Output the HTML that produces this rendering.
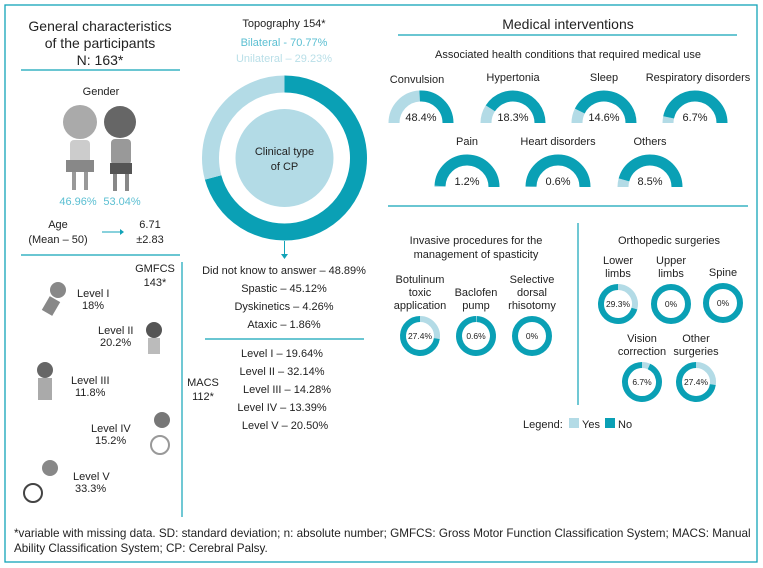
<!DOCTYPE html>
<html><head><meta charset="utf-8">
<style>
body{margin:0;background:#fff;}
svg{display:block;font-family:"Liberation Sans",sans-serif;}
text{fill:#222;}
</style></head><body>
<svg id="chart" width="763" height="568" viewBox="0 0 763 568">
<rect x="5" y="5" width="752" height="557" fill="none" stroke="#12a3b8" stroke-width="1.3"/>
<g>
<text x="100" y="31" font-size="14" text-anchor="middle">General characteristics</text>
<text x="100" y="48" font-size="14" text-anchor="middle">of the participants</text>
<text x="100" y="65" font-size="14" text-anchor="middle">N: 163*</text>
<line x1="21" y1="70" x2="180" y2="70" stroke="#12a3b8" stroke-width="1.2"/>
<text x="101" y="95" font-size="11" text-anchor="middle">Gender</text>
<g fill="#bbb">
<circle cx="80" cy="122" r="17" fill="#aaa"/><rect x="70" y="140" width="20" height="28" rx="4" fill="#ccc"/><rect x="66" y="160" width="28" height="12" fill="#888"/><rect x="72" y="172" width="4" height="18" fill="#999"/><rect x="84" y="172" width="4" height="18" fill="#999"/>
<circle cx="120" cy="122" r="16" fill="#666"/><rect x="111" y="139" width="20" height="26" rx="4" fill="#999"/><rect x="110" y="163" width="22" height="11" fill="#555"/><rect x="113" y="174" width="4" height="17" fill="#888"/><rect x="125" y="174" width="4" height="17" fill="#888"/>
</g>
<text x="78" y="205" font-size="11" text-anchor="middle" style="fill:#5bbfd2">46.96%</text>
<text x="122" y="205" font-size="11" text-anchor="middle" style="fill:#5bbfd2">53.04%</text>
<text x="58" y="228" font-size="11" text-anchor="middle">Age</text>
<text x="58" y="243" font-size="11" text-anchor="middle">(Mean – 50)</text>
<line x1="102" y1="232" x2="120" y2="232" stroke="#12a3b8"/><polygon points="120,229 124,232 120,235" fill="#12a3b8"/>
<text x="150" y="228" font-size="11" text-anchor="middle">6.71</text>
<text x="150" y="243" font-size="11" text-anchor="middle">±2.83</text>
<line x1="21" y1="255" x2="180" y2="255" stroke="#12a3b8" stroke-width="1.2"/>
<line x1="182" y1="262" x2="182" y2="517" stroke="#12a3b8" stroke-width="1.2"/>
<text x="155" y="272" font-size="11" text-anchor="middle">GMFCS</text>
<text x="155" y="286" font-size="11" text-anchor="middle">143*</text>
<g font-size="11">
<text x="77" y="297">Level I</text><text x="82" y="309">18%</text>
<text x="98" y="334">Level II</text><text x="100" y="346">20.2%</text>
<text x="71" y="384">Level III</text><text x="75" y="396">11.8%</text>
<text x="91" y="432">Level IV</text><text x="95" y="444">15.2%</text>
<text x="73" y="480">Level V</text><text x="75" y="492">33.3%</text>
</g>
<g fill="#888">
<circle cx="58" cy="290" r="8"/><rect x="45" y="298" width="12" height="16" transform="rotate(30 51 306)"/>
<circle cx="154" cy="330" r="8" fill="#555"/><rect x="148" y="338" width="12" height="16" fill="#bbb"/>
<circle cx="45" cy="370" r="8" fill="#666"/><rect x="38" y="378" width="14" height="22" fill="#aaa"/>
<circle cx="162" cy="420" r="8" fill="#777"/><circle cx="160" cy="445" r="9" fill="none" stroke="#999" stroke-width="2"/>
<circle cx="50" cy="468" r="8" fill="#888"/><circle cx="33" cy="493" r="9" fill="none" stroke="#444" stroke-width="2"/>
</g>
</g>
<g>
<text x="284" y="27" font-size="11" text-anchor="middle">Topography 154*</text>
<text x="284" y="46" font-size="11" text-anchor="middle" style="fill:#5bbfd2">Bilateral - 70.77%</text>
<text x="284" y="62" font-size="11" text-anchor="middle" style="fill:#b9dfe8">Unilateral – 29.23%</text>
<g id="bigdonut"></g>
<circle cx="284.5" cy="158" r="49" fill="#b3dbe6"/>
<text x="284.5" y="155" font-size="11" text-anchor="middle">Clinical type</text>
<text x="284.5" y="170" font-size="11" text-anchor="middle">of CP</text>
<line x1="284.5" y1="241" x2="284.5" y2="255" stroke="#12a3b8"/><polygon points="281,254 288,254 284.5,259" fill="#12a3b8"/>
<g font-size="11" text-anchor="middle">
<text x="284" y="274">Did not know to answer – 48.89%</text>
<text x="284" y="292">Spastic – 45.12%</text>
<text x="284" y="310">Dyskinetics – 4.26%</text>
<text x="284" y="328">Ataxic – 1.86%</text>
</g>
<line x1="205" y1="339" x2="364" y2="339" stroke="#12a3b8" stroke-width="1.2"/>
<text x="203" y="386" font-size="11" text-anchor="middle">MACS</text>
<text x="203" y="400" font-size="11" text-anchor="middle">112*</text>
<g font-size="11" text-anchor="middle">
<text x="282" y="357">Level I – 19.64%</text>
<text x="282" y="375">Level II – 32.14%</text>
<text x="287" y="393">Level III – 14.28%</text>
<text x="282" y="411">Level IV – 13.39%</text>
<text x="285" y="429">Level V – 20.50%</text>
</g>
</g>
<text x="568" y="29" font-size="14" text-anchor="middle">Medical interventions</text>
<line x1="398" y1="35" x2="737" y2="35" stroke="#12a3b8" stroke-width="1.2"/>
<text x="568" y="58" font-size="11" text-anchor="middle">Associated health conditions that required medical use</text>
<g id="gauges"></g>
<line x1="388" y1="206" x2="748" y2="206" stroke="#12a3b8" stroke-width="1.2"/>
<line x1="578" y1="223" x2="578" y2="405" stroke="#12a3b8" stroke-width="1.2"/>
<text x="476" y="244" font-size="11" text-anchor="middle">Invasive procedures for the</text>
<text x="476" y="258" font-size="11" text-anchor="middle">management of spasticity</text>
<text x="669" y="244" font-size="11" text-anchor="middle">Orthopedic surgeries</text>
<g id="rings"></g>
<g>
<text x="523" y="428" font-size="11">Legend:</text>
<rect x="569" y="418" width="10" height="10" fill="#b3dbe6"/>
<text x="582" y="428" font-size="11">Yes</text>
<rect x="605" y="418" width="10" height="10" fill="#0aa0b5"/>
<text x="618" y="428" font-size="11">No</text>
</g>
<text x="14" y="537" font-size="11.7">*variable with missing data. SD: standard deviation; n: absolute number; GMFCS: Gross Motor Function Classification System; MACS: Manual</text>
<text x="14" y="552" font-size="11.7">Ability Classification System; CP: Cerebral Palsy.</text>
</svg>
<script>
const DARK="#0aa0b5", LIGHT="#b3dbe6", NS="http://www.w3.org/2000/svg";
const topoCategories=["Bilateral","Unilateral"];
const topoValues=[70.77,29.23];
const gaugeLabels=["Convulsion","Hypertonia","Sleep","Respiratory disorders","Pain","Heart disorders","Others"];
const gaugeValues=[48.4,18.3,14.6,6.7,1.2,0.6,8.5];
const ringLabels=[["Botulinum","toxic","application"],["Baclofen","pump"],["Selective","dorsal","rhisotomy"],["Lower","limbs"],["Upper","limbs"],["Spine"],["Vision","correction"],["Other","surgeries"]];
const ringValues=[27.4,0.6,0,29.3,0,0,6.7,27.4];
const ringText=["27.4%","0.6%","0%","29.3%","0%","0%","6.7%","27.4%"];

function el(t,a,p){const e=document.createElementNS(NS,t);for(const k in a)e.setAttribute(k,a[k]);p.appendChild(e);return e;}
function pt(cx,cy,r,deg){const a=(deg-90)*Math.PI/180;return [cx+r*Math.cos(a),cy+r*Math.sin(a)];}
function arc(cx,cy,r,a0,a1){const s=pt(cx,cy,r,a0),e=pt(cx,cy,r,a1);const large=(a1-a0)>180?1:0;return `M${s[0]},${s[1]} A${r},${r} 0 ${large} 1 ${e[0]},${e[1]}`;}
function seg(g,cx,cy,r,w,a0,a1,col,name){if(a1-a0<=0.01)return;
  let p;
  if(a1-a0>=359.99){p=el('circle',{cx,cy,r,fill:'none',stroke:col,'stroke-width':w},g);}
  else p=el('path',{d:arc(cx,cy,r,a0,a1),fill:'none',stroke:col,'stroke-width':w},g);
  
  }

const bd=document.getElementById('bigdonut');
let acc=0;
topoValues.forEach((v,i)=>{const a0=acc/100*360,a1=(acc+v)/100*360;acc+=v;
  seg(bd,284.5,158,74,17,a0,a1,i===0?DARK:LIGHT,'donut-slice-'+topoCategories[i].toLowerCase());});

const gx=[421,513,604,695,467,558,650], gy=[123,123,123,123,187,187,187];
const G=document.getElementById('gauges');
gaugeValues.forEach((v,i)=>{
  const cx=gx[i],cy=gy[i],r=27,w=11;
  const split=-90+v/100*180;
  seg(G,cx,cy,r,w,-90,split,LIGHT,'gauge-yes-'+i);
  seg(G,cx,cy,r,w,split,90,DARK,'gauge-no-'+i);
  const t=el('text',{x:cx,y:cy-2,'font-size':11,'text-anchor':'middle'},G);t.textContent=v+'%';
  
  
  const l=el('text',{x:cx+(i===0?-4:(i===3?3:0)),y:cy-42+(i===0?2:0),'font-size':11,'text-anchor':'middle'},G);l.textContent=gaugeLabels[i];
  
  
});

const rx=[420,476,532,618,671,723,642,696], ry=[336,336,336,304,304,303,382,382];
const R=document.getElementById('rings');
ringValues.forEach((v,i)=>{
  const cx=rx[i],cy=ry[i],r=17,w=6;
  const split=v/100*360;
  seg(R,cx,cy,r,w,0,split,LIGHT,'ring-yes-'+i);
  seg(R,cx,cy,r,w,split,360,DARK,'ring-no-'+i);
  const t=el('text',{x:cx,y:cy+3,'font-size':8.5,'text-anchor':'middle'},R);t.textContent=ringText[i];
  
  
  const lines=ringLabels[i];
  lines.forEach((s,j)=>{const y=cy-27-(lines.length-1-j)*13;
    const l=el('text',{x:cx,y:y,'font-size':11,'text-anchor':'middle'},R);l.textContent=s;
    
    });
});
</script>
</body></html>
